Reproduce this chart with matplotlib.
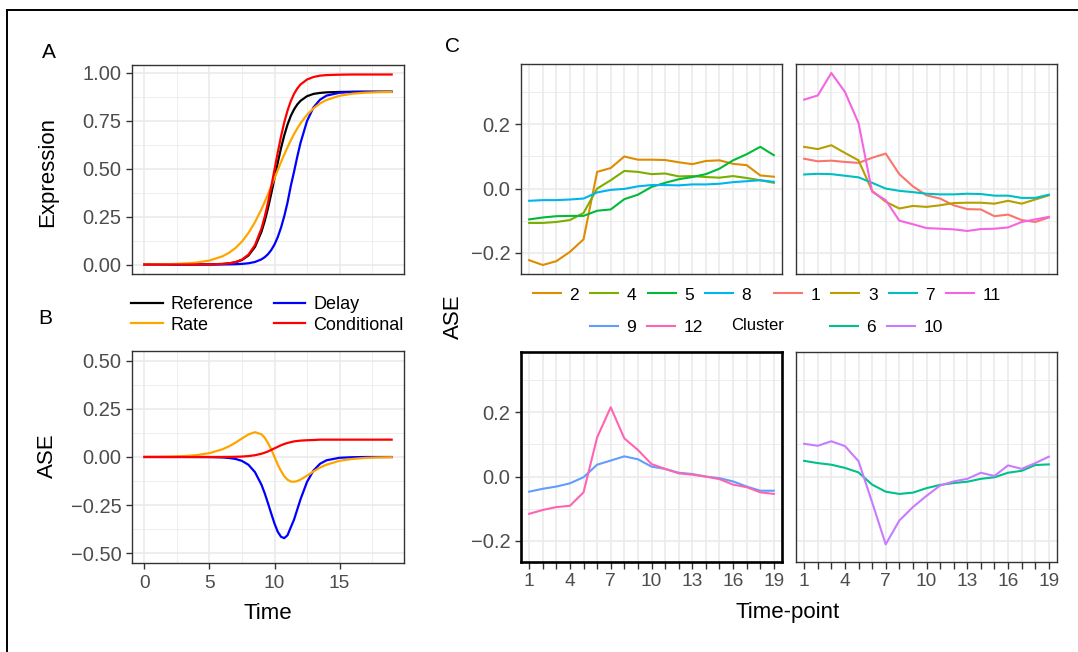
import numpy as np
import matplotlib
matplotlib.use('Agg')
import matplotlib.pyplot as plt
from matplotlib.lines import Line2D

plt.rcParams['font.family'] = ['Liberation Sans', 'DejaVu Sans']

# ---- panel A / B : simulated expression curves ----
time = [0, 1, 2, 3, 4, 5, 6, 6.5, 7, 7.5, 8, 8.5, 9, 9.25, 9.5, 9.75, 10, 10.25,
        10.5, 10.75, 11, 11.25, 11.5, 11.75, 12, 12.5, 13, 13.5, 14, 15, 16, 17, 18, 19]
expr_reference = [0, 0, 0, 0, 0.0002, 0.0006, 0.0027, 0.0056, 0.0115, 0.0234, 0.047, 0.0918,
                  0.171, 0.227, 0.294, 0.369, 0.45, 0.531, 0.606, 0.673, 0.729, 0.774, 0.808,
                  0.834, 0.853, 0.877, 0.889, 0.894, 0.897, 0.899, 0.9, 0.9, 0.9, 0.9]
expr_rate = [0.0005, 0.0011, 0.0022, 0.0047, 0.0099, 0.0207, 0.0427, 0.0608, 0.0858, 0.1197,
             0.1642, 0.2206, 0.2887, 0.3268, 0.3666, 0.408, 0.45, 0.492, 0.5334, 0.5732,
             0.6113, 0.6467, 0.6794, 0.7092, 0.7358, 0.7803, 0.8142, 0.8393, 0.8573, 0.8793,
             0.8901, 0.8953, 0.8978, 0.8989]
expr_delay = [0, 0, 0, 0, 0, 0.0001, 0.0004, 0.0007, 0.0015, 0.0031, 0.0065, 0.0132, 0.0269,
              0.0382, 0.0538, 0.0754, 0.1045, 0.143, 0.192, 0.252, 0.323, 0.409, 0.483, 0.562,
              0.634, 0.748, 0.819, 0.859, 0.88, 0.895, 0.899, 0.9, 0.9, 0.9]
expr_conditional = [0, 0, 0, 0, 0.0002, 0.0007, 0.003, 0.0061, 0.0126, 0.0257, 0.0517, 0.101,
                    0.188, 0.2495, 0.3227, 0.406, 0.495, 0.584, 0.667, 0.7405, 0.802, 0.851,
                    0.889, 0.917, 0.938, 0.964, 0.977, 0.984, 0.987, 0.989, 0.99, 0.99, 0.99, 0.99]

# ---- panel C : cluster ASE per time-point ----
timepoints = list(range(1, 20))
ase_cluster = {
    1: [0.093, 0.085, 0.087, 0.083, 0.080, 0.096, 0.109, 0.045, 0.007, -0.021, -0.031, -0.052,
        -0.064, -0.065, -0.086, -0.081, -0.098, -0.104, -0.090],
    2: [-0.223, -0.238, -0.226, -0.197, -0.158, 0.052, 0.064, 0.100, 0.090, 0.090, 0.089, 0.082,
        0.076, 0.086, 0.088, 0.077, 0.073, 0.041, 0.037],
    3: [0.130, 0.123, 0.135, 0.111, 0.088, -0.007, -0.041, -0.062, -0.054, -0.057, -0.052, -0.045,
        -0.044, -0.044, -0.047, -0.038, -0.047, -0.034, -0.021],
    4: [-0.107, -0.107, -0.104, -0.098, -0.076, 0.000, 0.026, 0.055, 0.052, 0.045, 0.047, 0.038,
        0.039, 0.036, 0.034, 0.039, 0.033, 0.026, 0.018],
    5: [-0.096, -0.090, -0.086, -0.085, -0.085, -0.069, -0.065, -0.033, -0.019, 0.005, 0.018, 0.029,
        0.036, 0.045, 0.062, 0.088, 0.107, 0.130, 0.104],
    6: [0.049, 0.042, 0.037, 0.027, 0.013, -0.025, -0.047, -0.054, -0.050, -0.036, -0.026, -0.020,
        -0.016, -0.007, -0.002, 0.012, 0.018, 0.036, 0.038],
    7: [0.044, 0.046, 0.045, 0.040, 0.035, 0.018, 0.000, -0.007, -0.011, -0.016, -0.018, -0.018,
        -0.016, -0.017, -0.022, -0.022, -0.029, -0.029, -0.019],
    8: [-0.038, -0.036, -0.036, -0.034, -0.031, -0.012, -0.004, -0.001, 0.007, 0.011, 0.011, 0.010,
        0.013, 0.013, 0.015, 0.020, 0.023, 0.026, 0.021],
    9: [-0.047, -0.038, -0.031, -0.021, -0.002, 0.037, 0.050, 0.063, 0.054, 0.031, 0.024, 0.012,
        0.008, 0.000, -0.005, -0.015, -0.031, -0.044, -0.044],
    10: [0.102, 0.096, 0.110, 0.095, 0.048, -0.080, -0.211, -0.137, -0.095, -0.060, -0.028, -0.015,
         -0.007, 0.012, 0.002, 0.035, 0.024, 0.042, 0.062],
    11: [0.277, 0.290, 0.360, 0.301, 0.204, -0.010, -0.036, -0.100, -0.111, -0.123, -0.125, -0.127,
         -0.132, -0.126, -0.125, -0.121, -0.104, -0.096, -0.088],
    12: [-0.116, -0.104, -0.095, -0.091, -0.049, 0.122, 0.216, 0.119, 0.083, 0.039, 0.024, 0.010,
         0.006, 0.000, -0.008, -0.025, -0.033, -0.049, -0.054],
}
cluster_colors = {1: '#F8766D', 2: '#DE8C00', 3: '#B79F00', 4: '#7CAE00', 5: '#00BA38',
                  6: '#00C08B', 7: '#00BFC4', 8: '#00B4F0', 9: '#619CFF', 10: '#C77CFF',
                  11: '#F564E3', 12: '#FF64B0'}
panel_clusters = [[2, 4, 5, 8], [1, 3, 7, 11], [9, 12], [6, 10]]

W, H = 1078, 652
fig = plt.figure(figsize=(W / 100, H / 100), dpi=100)


def box(l, t, r, b):
    return [l / W, 1 - b / H, (r - l) / W, (b - t) / H]


GRID = '#EBEBEB'
TICKC = '#4D4D4D'


def style(ax, border='#333333', lw=1.0):
    ax.set_axisbelow(True)
    ax.grid(which='major', color=GRID, lw=1.2)
    ax.grid(which='minor', color=GRID, lw=0.6)
    for s in ax.spines.values():
        s.set_color(border)
        s.set_linewidth(lw)
    ax.tick_params(which='major', colors='#333333', labelcolor=TICKC,
                   width=1.0, length=4.5, pad=3)
    ax.tick_params(axis='y', labelsize=14.5)
    ax.tick_params(axis='x', labelsize=13.8)
    ax.tick_params(which='minor', length=0)


# panel A
axA = fig.add_axes(box(132, 65, 404, 274))
curves = [('Reference', expr_reference, 'black'), ('Delay', expr_delay, 'blue'),
          ('Rate', expr_rate, '#FFA500'), ('Conditional', expr_conditional, 'red')]
for name, vals, col in curves:
    axA.plot(time, vals, color=col, lw=1.6, label=name)
axA.set_xlim(-0.95, 19.95)
axA.set_ylim(-0.0495, 1.0395)
axA.set_xticks([0, 5, 10, 15])
axA.set_xticks([2.5, 7.5, 12.5, 17.5], minor=True)
axA.set_yticks([0, 0.25, 0.5, 0.75, 1.0])
axA.set_yticklabels(['0.00', '0.25', '0.50', '0.75', '1.00'])
axA.set_yticks([0.125, 0.375, 0.625, 0.875], minor=True)
style(axA)
axA.tick_params(axis='x', length=0, labelbottom=False)

# panel B: difference to reference (reference itself is not drawn)
axB = fig.add_axes(box(132, 351, 404, 563))
ref = np.array(expr_reference)
for name, vals, col in curves[1:]:
    axB.plot(time, np.array(vals) - ref, color=col, lw=1.6)
axB.set_xlim(-0.95, 19.95)
axB.set_ylim(-0.55, 0.55)
axB.set_xticks([0, 5, 10, 15])
axB.set_xticks([2.5, 7.5, 12.5, 17.5], minor=True)
axB.set_yticks([-0.5, -0.25, 0, 0.25, 0.5])
axB.set_yticklabels(['\u22120.50', '\u22120.25', '0.00', '0.25', '0.50'])
axB.set_yticks([-0.375, -0.125, 0.125, 0.375], minor=True)
style(axB)
axB.tick_params(axis='x', pad=4)

handles = [Line2D([], [], color=c, lw=1.6) for c in ['black', '#FFA500', 'blue', 'red']]
fig.legend(handles, ['Reference', 'Rate', 'Delay', 'Conditional'], ncol=2,
           loc='center left', bbox_to_anchor=(131 / W, 1 - 315 / H), frameon=False,
           fontsize=13, handlelength=1.75, handletextpad=0.45, columnspacing=1.1,
           labelspacing=0.2, borderpad=0, borderaxespad=0)

# panel C
c_boxes = [box(521, 64, 782, 274), box(796, 64, 1057, 274),
           box(521, 352, 782, 562), box(796, 352, 1057, 562)]
for i, (bx, cl) in enumerate(zip(c_boxes, panel_clusters)):
    ax = fig.add_axes(bx)
    if i == 2:
        style(ax, border='black', lw=1.9)
    else:
        style(ax)
    for c in cl:
        ax.plot(timepoints, ase_cluster[c], color=cluster_colors[c], lw=1.5)
    ax.set_xlim(0.4, 19.6)
    ax.set_ylim(-0.266, 0.388)
    ax.set_xticks(timepoints)
    ax.set_xticklabels([str(t) if (t - 1) % 3 == 0 else '' for t in timepoints])
    ax.set_yticks([-0.2, 0.0, 0.2])
    ax.set_yticklabels(['\u22120.2', '0.0', '0.2'])
    ax.set_yticks([-0.1, 0.1, 0.3], minor=True)
    ax.tick_params(axis='x', length=5, pad=3)
    if i < 2:
        ax.tick_params(axis='x', length=0, labelbottom=False)
    if i % 2 == 1:
        ax.tick_params(axis='y', length=0, labelleft=False)
    hs = [Line2D([], [], color=cluster_colors[c], lw=1.5) for c in cl]
    leg_pos = [(533, 295), (774, 295), (590, 327), (830, 327)][i]
    fig.legend(hs, [str(c) for c in cl], ncol=len(cl), loc='center left',
               bbox_to_anchor=(leg_pos[0] / W, 1 - leg_pos[1] / H), frameon=False,
               fontsize=12.5, handlelength=1.6, handletextpad=0.5, columnspacing=0.65,
               borderpad=0, borderaxespad=0)

fig.text(758 / W, 1 - 325 / H, 'Cluster', fontsize=12, ha='center', va='center')

# titles and tags
fig.text(49 / W, 1 - 53 / H, 'A', fontsize=15, ha='center', va='center')
fig.text(45 / W, 1 - 318 / H, 'B', fontsize=15, ha='center', va='center')
fig.text(452 / W, 1 - 47 / H, 'C', fontsize=15, ha='center', va='center')
fig.text(47.5 / W, 1 - 172 / H, 'Expression', fontsize=16, rotation=90, ha='center', va='center')
fig.text(47.5 / W, 1 - 456 / H, 'ASE', fontsize=16, rotation=90, ha='center', va='center')
fig.text(268 / W, 1 - 619 / H, 'Time', fontsize=16, ha='center', va='baseline')
fig.text(453 / W, 1 - 317 / H, 'ASE', fontsize=16, rotation=90, ha='center', va='center')
fig.text(788 / W, 1 - 618 / H, 'Time-point', fontsize=16, ha='center', va='baseline')

# outer frame (top and left edges only)
fig.add_artist(Line2D([7 / W, 1], [1 - 9.5 / H, 1 - 9.5 / H], color='black', lw=1.4,
                      transform=fig.transFigure))
fig.add_artist(Line2D([7 / W, 7 / W], [0, 1 - 9.5 / H], color='black', lw=1.4,
                      transform=fig.transFigure))

fig.savefig('out.png', dpi=100)
